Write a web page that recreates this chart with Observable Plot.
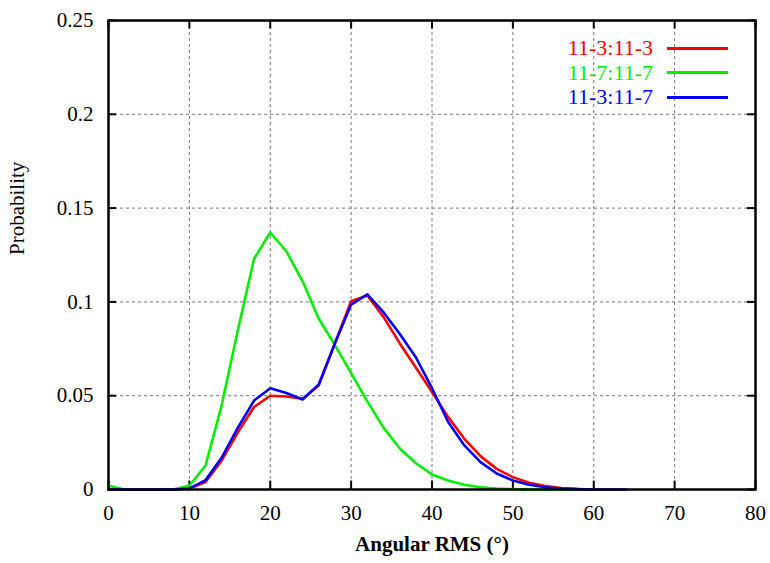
<!DOCTYPE html>
<html>
<head>
<meta charset="utf-8">
<script src="https://cdn.jsdelivr.net/npm/d3@7"></script>
<script src="https://cdn.jsdelivr.net/npm/@observablehq/plot@0.6"></script>
<style>
  html, body { margin: 0; padding: 0; background: #fff; }
  #wrap { position: relative; width: 770px; height: 563px; }
  #legend { position: absolute; left: 540px; top: 36px; font-family: "Liberation Serif", serif; font-size: 22px; }
  .row { display: flex; align-items: center; height: 24.5px; }
  .row span.t { display: inline-block; width: 113px; text-align: right; }
  .row span.l { display: inline-block; width: 61px; height: 0; margin-left: 14px; border-top: 3px solid; }
</style>
</head>
<body>
<div id="wrap"><div id="legend"></div></div>
<script>
const xValues = [0,2,4,6,8,10,12,14,16,18,20,22,24,26,28,30,32,34,36,38,40,42,44,46,48,50,52,54,56,58,60,62,64];
const red   = [0,0,0,0,0,0.0005,0.004,0.0155,0.0305,0.044,0.050,0.0496,0.0484,0.0555,0.078,0.1004,0.1034,0.092,0.078,0.065,0.052,0.0386,0.027,0.0178,0.011,0.0066,0.0036,0.0018,0.0008,0.0003,0.0001,null,null];
const green = [0.002,0,0,0,0,0.002,0.0128,0.045,0.085,0.123,0.137,0.127,0.111,0.091,0.077,0.062,0.047,0.033,0.022,0.014,0.008,0.0048,0.0025,0.0012,0.0005,0.0002,0,0,0,0,0,null,null];
const blue  = [0,0,0,0,0,0.0005,0.005,0.017,0.033,0.0474,0.054,0.0514,0.048,0.056,0.078,0.0986,0.104,0.0945,0.083,0.0705,0.054,0.036,0.0235,0.0146,0.0085,0.0048,0.0025,0.0012,0.0005,0.0002,0,0,0];
const seriesNames = ["11-3:11-3", "11-7:11-7", "11-3:11-7"];
const seriesColors = ["#ff0000", "#00f000", "#0000ff"];
const xTicks = [0,10,20,30,40,50,60,70,80];
const yTicks = [0,0.05,0.1,0.15,0.2,0.25];
const xLabel = "Angular RMS (°)";
const yLabel = "Probability";

const allSeries = [red, green, blue];
const rows = [];
allSeries.forEach((s, i) => s.forEach((v, j) => { if (v !== null) rows.push({series: seriesNames[i], x: xValues[j], y: v}); }));

const serif = "'Liberation Serif', serif";
const chart = Plot.plot({
  width: 770,
  height: 563,
  marginLeft: 108,
  marginRight: 15,
  marginTop: 20,
  marginBottom: 74,
  style: {fontFamily: serif, fontSize: "21px", color: "#000", background: "#fff"},
  x: {domain: [0, 80], ticks: xTicks, label: null},
  y: {domain: [0, 0.25], ticks: yTicks, label: null},
  color: {domain: seriesNames, range: seriesColors},
  marks: [
    Plot.gridX(xTicks.slice(1, -1), {stroke: "#777", strokeOpacity: 1, strokeWidth: 1, strokeDasharray: "3,3"}),
    Plot.gridY(yTicks.slice(1, -1), {stroke: "#777", strokeOpacity: 1, strokeWidth: 1, strokeDasharray: "3,3"}),
    Plot.ruleX(xTicks, {y1: 0, y2: 0.0045, stroke: "#000", strokeWidth: 2}),
    Plot.ruleX(xTicks, {y1: 0.25, y2: 0.2455, stroke: "#000", strokeWidth: 2}),
    Plot.ruleY(yTicks, {x1: 0, x2: 1.0, stroke: "#000", strokeWidth: 2}),
    Plot.ruleY(yTicks, {x1: 80, x2: 79, stroke: "#000", strokeWidth: 2}),
    Plot.line(rows, {x: "x", y: "y", z: "series", stroke: "series", strokeWidth: 2.6}),
    Plot.frame({stroke: "#000", strokeWidth: 2.5}),
    Plot.axisX(xTicks, {tickSize: 0, tickPadding: 16, label: null, fontSize: 21}),
    Plot.axisY(yTicks, {tickSize: 0, tickPadding: 15, label: null, fontSize: 21, tickFormat: d => String(d)}),
    Plot.text([xLabel], {frameAnchor: "bottom", dy: 61, fontSize: 21, fontWeight: "bold", text: d => d}),
    Plot.text([yLabel], {frameAnchor: "left", dx: -91, rotate: -90, fontSize: 21, text: d => d})
  ]
});
chart.querySelectorAll("text").forEach(el => el.style.setProperty("font-family", serif));
document.getElementById("wrap").prepend(chart);

const legend = document.getElementById("legend");
seriesNames.forEach((n, i) => {
  const r = document.createElement("div");
  r.className = "row";
  const t = document.createElement("span");
  t.className = "t"; t.textContent = n; t.style.color = seriesColors[i];
  const l = document.createElement("span");
  l.className = "l"; l.style.borderTopColor = seriesColors[i];
  r.append(t, l);
  legend.append(r);
});
</script>
</body>
</html>
